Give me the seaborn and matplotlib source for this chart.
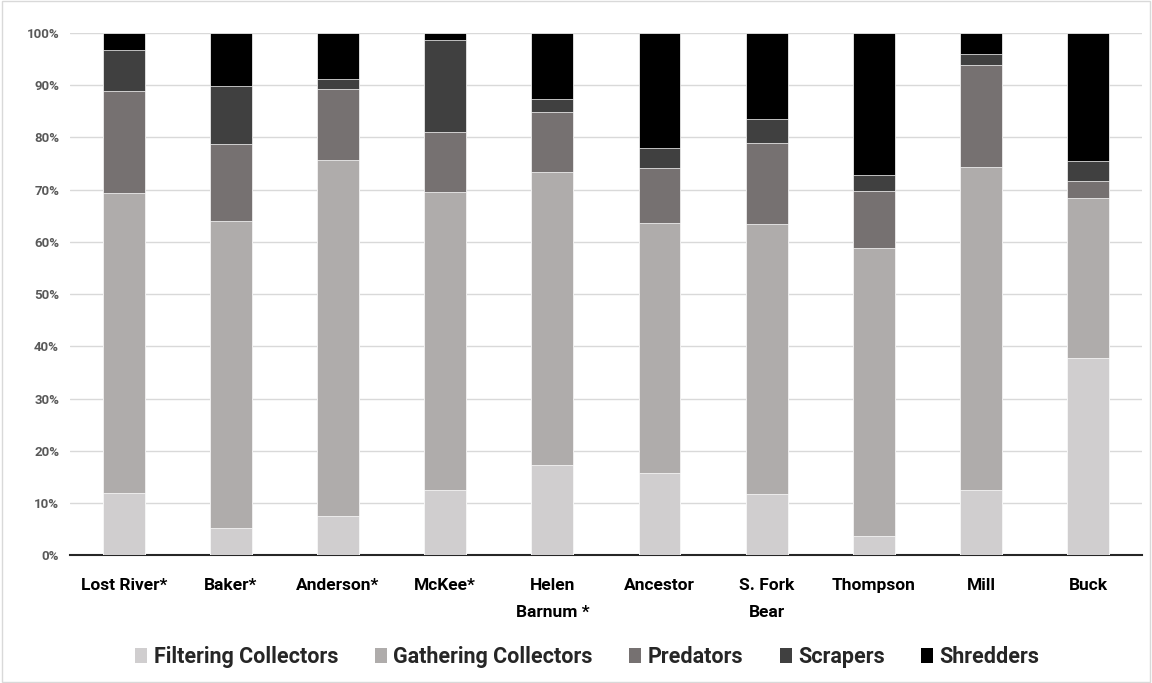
import numpy as np
import pandas as pd
import seaborn as sns
import matplotlib.pyplot as plt
from matplotlib.patches import Patch, Rectangle

sites = ["Lost River*", "Baker*", "Anderson*", "McKee*", "Helen\nBarnum *",
         "Ancestor", "S. Fork\nBear", "Thompson", "Mill", "Buck"]

filtering = [11.9, 5.3, 7.6, 12.5, 17.3, 15.8, 11.7, 3.7, 12.5, 37.7]
gathering = [57.4, 58.7, 68.1, 57.0, 56.1, 47.7, 51.7, 55.2, 61.8, 30.7]
predators = [19.6, 14.7, 13.6, 11.6, 11.5, 10.6, 15.6, 10.8, 19.5, 3.3]
scrapers = [7.8, 11.2, 1.8, 17.6, 2.4, 3.9, 4.5, 3.0, 2.1, 3.8]
shredders = [3.3, 10.1, 8.9, 1.3, 12.7, 22.0, 16.5, 27.3, 4.1, 24.5]

groups = ["Filtering Collectors", "Gathering Collectors", "Predators", "Scrapers", "Shredders"]
colors = ["#D0CECF", "#AFACAB", "#767171", "#404040", "#000000"]

df = pd.DataFrame({"site": sites,
                   "Filtering Collectors": filtering,
                   "Gathering Collectors": gathering,
                   "Predators": predators,
                   "Scrapers": scrapers,
                   "Shredders": shredders})

# normalise to 100% stacked
vals = df[groups]
vals = vals.div(vals.sum(axis=1), axis=0) * 100
cum = vals.cumsum(axis=1)

sns.set_style("white")
plt.rcParams['font.family'] = ['Roboto', 'DejaVu Sans']

fig = plt.figure(figsize=(11.52, 6.83), dpi=100)
ax = fig.add_axes([0.061, 0.187, 0.930, 0.765])

# draw tallest first so the lower layers sit on top
for g, c in reversed(list(zip(groups, colors))):
    sns.barplot(x=df["site"], y=cum[g], color=c, width=0.39, ax=ax,
                edgecolor="white", linewidth=0.5, saturation=1, zorder=3)

ax.set_ylim(0, 100)
ax.set_yticks(np.arange(0, 101, 10))
ax.set_yticklabels([f"{v}%" for v in range(0, 101, 10)], fontsize=9.5,
                   fontweight="bold", color="#595959")
ax.set_xticks(range(len(sites)))
ax.set_xticklabels(sites, fontsize=12.5, fontweight="bold", color="black",
                   linespacing=2.0)
ax.set_xlabel("")
ax.set_ylabel("")
ax.set_xlim(-0.5, len(sites) - 0.5)
ax.grid(axis="y", color="#D9D9D9", linewidth=1, zorder=0)
ax.set_axisbelow(True)
for s in ["top", "right", "left"]:
    ax.spines[s].set_visible(False)
ax.spines["bottom"].set_color("#262626")
ax.spines["bottom"].set_linewidth(1.5)
ax.tick_params(axis="y", length=0, pad=8)
ax.tick_params(axis="x", length=0, pad=16)

handles = [Patch(facecolor=c, edgecolor="none") for c in colors]
leg = fig.legend(handles, groups, loc="center", bbox_to_anchor=(0.51, 0.038), ncol=5,
                 frameon=False, prop={"family": "Roboto", "weight": "bold", "size": 15.5},
                 handlelength=0.55, handleheight=0.7, handletextpad=0.3, columnspacing=1.7)

fig.patches.append(Rectangle((0.002, 0.002), 0.996, 0.996, transform=fig.transFigure,
                             fill=False, edgecolor="#D9D9D9", linewidth=1))

fig.savefig("out.png", dpi=100)
